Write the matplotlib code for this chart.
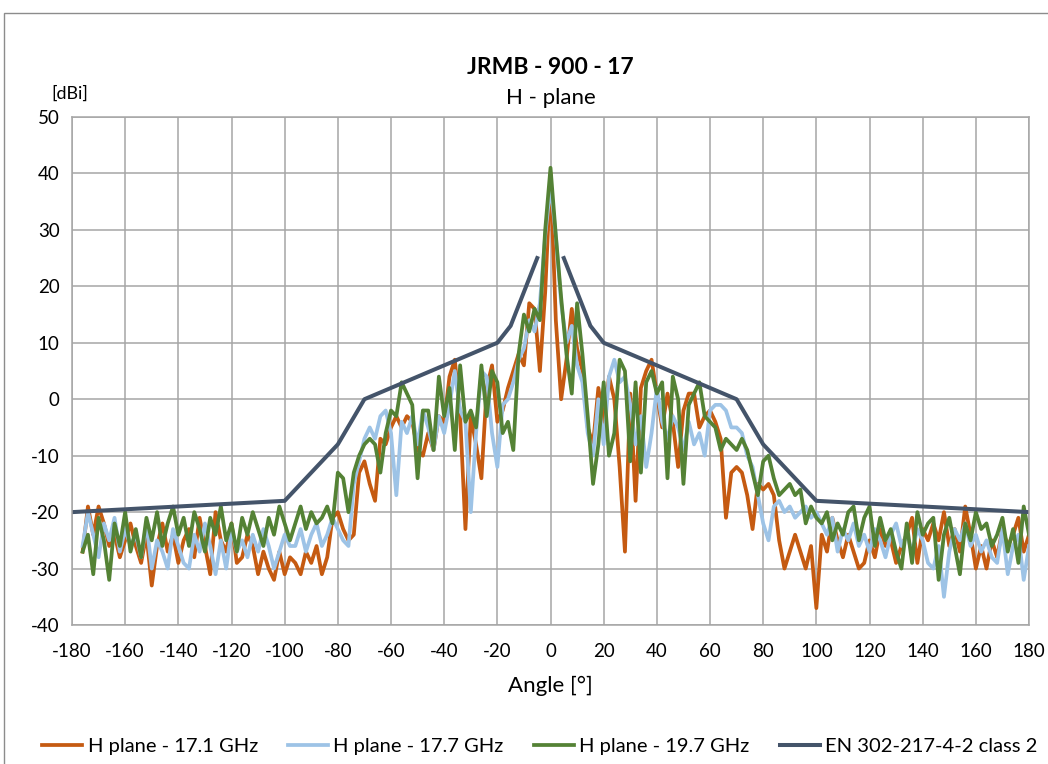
import numpy as np
import matplotlib
matplotlib.use('Agg')
import matplotlib.pyplot as plt
from matplotlib.patches import Rectangle

plt.rcParams['font.family'] = ['Lato', 'DejaVu Sans']
plt.rcParams['axes.unicode_minus'] = False

# measured angles, -176 .. 180 deg in 2 deg steps
angles = np.arange(-176, 181, 2)

h_17_1 = [
    -27, -19, -24, -19, -22, -26, -24, -28, -25, -22,
    -26, -29, -24, -33, -26, -22, -27, -24, -29, -25,
    -23, -28, -21, -26, -31, -20, -25, -27, -22, -29,
    -28, -24, -26, -31, -27, -30, -32, -27, -31, -28,
    -29, -31, -27, -29, -26, -31, -28, -21, -20, -23,
    -25, -24, -13, -11, -15, -18, -7, -8, -5, -3,
    -5, -3, -4, -9, -10, -6, -9, -3, -4, 4,
    7, -3, -23, -3, -8, -14, 2, 6, -4, -2,
    2, 5, 8, 6, 17, 16, 5, 19, 40, 14,
    0, 7, 16, 9, 5, -5, -8, 2, -4, 4,
    0, -12, -27, 1, -18, 2, 5, 7, 1, -5,
    1, -4, -12, -2, 1, 1, -5, -3, -2, -4,
    -7, -21, -13, -12, -13, -17, -23, -15, -16, -15,
    -17, -25, -30, -27, -24, -27, -30, -26, -37, -24,
    -27, -21, -25, -28, -24, -27, -30, -29, -25, -28,
    -23, -26, -25, -29, -26, -24, -21, -29, -23, -25,
    -22, -25, -20, -26, -23, -27, -19, -24, -30, -26,
    -30, -25, -28, -23, -26, -24, -21, -27, -24,
]

h_17_7 = [
    -26, -20, -24, -28, -22, -25, -21, -27, -23, -26,
    -24, -28, -22, -30, -25, -27, -30, -23, -26, -29,
    -30, -24, -27, -22, -26, -31, -25, -30, -23, -27,
    -25, -28, -24, -27, -23, -26, -30, -27, -24, -26,
    -26, -23, -27, -24, -22, -26, -24, -21, -23, -25,
    -26, -15, -11, -7, -5, -7, -3, -2, -6, -17,
    -4, -6, -3, -8, -2, -5, -9, -3, -6, -1,
    5, -2, -4, -20, -6, 5, 4, -6, -12, -1,
    0, 3, 7, 9, 14, 12, 17, 29, 38, 29,
    17, 10, 13, 6, 3, -6, -10, 0, -8, 4,
    7, 3, 4, -1, -8, -3, -12, -6, 2, -4,
    -7, -3, -5, -9, -4, -8, -6, -10, -2, -1,
    -1, -2, -5, -5, -6, -10, -12, -17, -22, -25,
    -19, -18, -20, -19, -21, -20, -19, -21, -20, -22,
    -24, -21, -27, -23, -25, -22, -26, -24, -27, -23,
    -25, -28, -24, -22, -26, -24, -27, -23, -25, -29,
    -30, -26, -35, -27, -23, -25, -22, -26, -24, -27,
    -25, -28, -29, -23, -31, -26, -24, -32, -26,
]

h_19_7 = [
    -27, -24, -31, -21, -25, -32, -22, -26, -20, -27,
    -23, -28, -21, -25, -20, -26, -22, -19, -24, -21,
    -26, -20, -23, -27, -21, -24, -19, -25, -22, -27,
    -21, -24, -20, -23, -26, -21, -24, -19, -22, -25,
    -22, -19, -23, -20, -22, -21, -19, -22, -13, -14,
    -20, -13, -10, -8, -7, -8, -13, -6, -2, -3,
    3, 1, -1, -14, -2, -2, -9, 4, -3, 2,
    -9, 6, -4, -2, -5, 6, -3, 5, 3, -6,
    -4, -9, 8, 15, 12, 16, 14, 30, 41, 29,
    18, 8, 1, 17, 8, -3, -15, -8, 3, -10,
    -6, 7, 5, -11, 3, -13, 3, 5, 1, 3,
    -14, 4, 0, -15, -1, 1, 3, -3, -4, -5,
    -9, -7, -8, -9, -7, -9, -13, -17, -11, -10,
    -14, -17, -16, -15, -17, -16, -22, -19, -21, -22,
    -20, -25, -22, -24, -20, -19, -25, -21, -19, -26,
    -21, -25, -23, -27, -30, -22, -29, -20, -24, -22,
    -21, -32, -24, -21, -26, -31, -22, -25, -20, -23,
    -22, -26, -24, -21, -27, -23, -29, -19, -24,
]

# EN 302-217-4-2 class 2 envelope (gap around boresight)
env_angles = [-180, -100, -80, -70, -20, -15, -5, 0, 5, 15, 20, 70, 80, 100, 180]
env_gain = [-20, -18, -8, 0, 10, 13, 25, np.nan, 25, 13, 10, 0, -8, -18, -20]

fig = plt.figure(figsize=(10.48, 7.64), dpi=100)
ax = fig.add_axes([0.0687, 0.1819, 0.9132, 0.665])

ax.plot(angles, h_17_1, color='#C55A11', lw=2.7, label='H plane - 17.1 GHz')
ax.plot(angles, h_17_7, color='#9DC3E6', lw=2.7, label='H plane - 17.7 GHz')
ax.plot(angles, h_19_7, color='#548235', lw=2.7, label='H plane - 19.7 GHz')
ax.plot(env_angles, env_gain, color='#44546A', lw=2.9, label='EN 302-217-4-2 class 2')

ax.set_xlim(-180, 180)
ax.set_ylim(-40, 50)
ax.set_xticks(np.arange(-180, 181, 20))
ax.set_yticks(np.arange(-40, 51, 10))
ax.grid(True, color='#A6A6A6', lw=1.1)
ax.set_axisbelow(True)
for s in ax.spines.values():
    s.set_color('#A6A6A6')
    s.set_linewidth(1.1)
ax.tick_params(length=0, labelsize=13.5, pad=9, colors='#000000')
ax.tick_params(axis='x', pad=13)

ax.set_xlabel('Angle [°]', fontsize=16, labelpad=11)
fig.text(0.5253, 0.912, 'JRMB - 900 - 17', ha='center', va='center',
         fontsize=16.5, fontweight='bold')
fig.text(0.5253, 0.872, 'H - plane', ha='center', va='center', fontsize=16)
fig.text(0.049, 0.878, '[dBi]', ha='left', va='center', fontsize=13)

fig.legend(loc='center', bbox_to_anchor=(0.515, 0.023), ncol=4, frameon=False,
           fontsize=14.5, handlelength=2.0, columnspacing=1.5, handletextpad=0.25)

# outer chart border
fig.patches.append(Rectangle((4 / 1048, -0.1), 1.2, 1.1 - 13 / 764,
                             transform=fig.transFigure, fill=False,
                             edgecolor='#8C8C8C', lw=1.0))

fig.savefig('out.png', dpi=100)
